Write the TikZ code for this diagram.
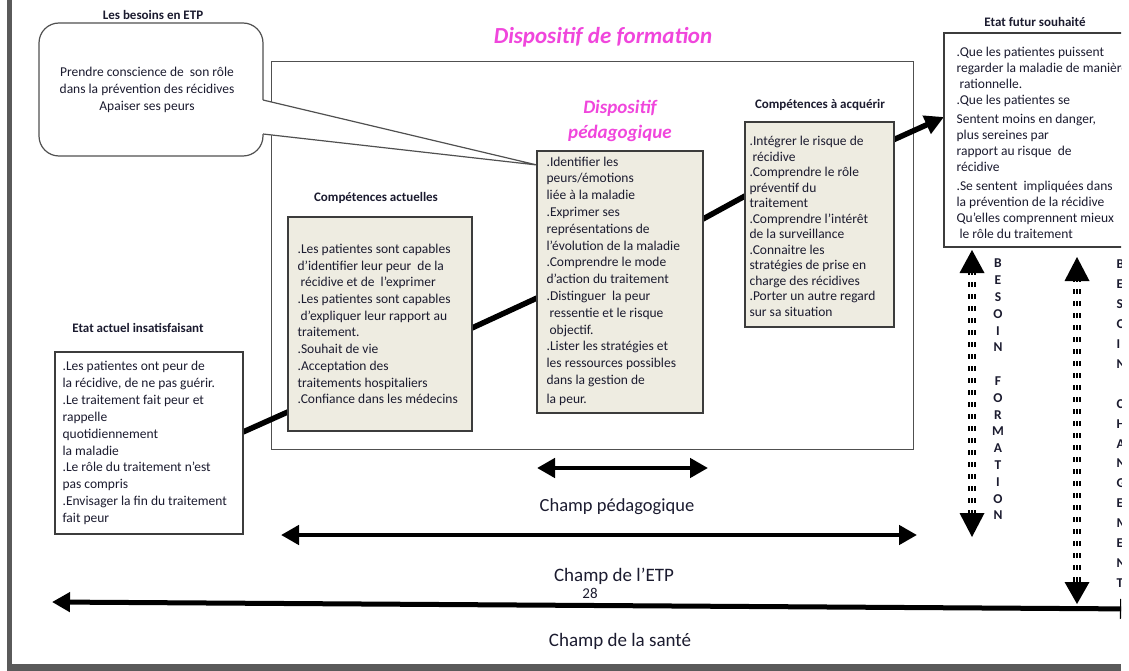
\documentclass[tikz,border=0pt]{standalone}
\usepackage{fontspec}
\setmainfont{Carlito}
\usetikzlibrary{arrows.meta}
\definecolor{ink}{HTML}{1B1B2F}
\definecolor{boxfill}{HTML}{EEECE1}
\definecolor{boxline}{HTML}{3C3C3C}
\definecolor{framegray}{HTML}{505050}
\definecolor{pinkttl}{HTML}{F046DC}
\definecolor{pagegray}{HTML}{5A5A5A}
\tikzset{
  lbl/.style={text=ink, inner sep=0pt},
  ttl/.style={lbl, font=\fontsize{13}{15}\selectfont\bfseries},
  body/.style={lbl, align=left, anchor=west, font=\fontsize{13.5}{#1}\selectfont},
  body/.default=16.5,
  beige/.style={draw=boxline, line width=1.2pt, fill=boxfill, inner sep=0pt},
  whitebox/.style={draw=boxline, line width=1.2pt, fill=white, inner sep=0pt},
  bigarrow/.style={line width=4.5pt, {Triangle[length=18pt,width=19pt]}-{Triangle[length=18pt,width=19pt]}},
  dashbar/.style={line width=1.7pt, dash pattern=on 5pt off 7pt},
  pinktitle/.style={text=pinkttl, inner sep=0pt, font=\fontsize{#1}{#1}\selectfont\bfseries\itshape},
  vlet/.style={lbl, align=center, anchor=north, font=\fontsize{13.5}{#1}\selectfont\bfseries},
  vletr/.style={lbl, align=left, anchor=north west, font=\fontsize{13.5}{#1}\selectfont\bfseries},
  champ/.style={lbl, font=\fontsize{19}{22}\selectfont},
}
\begin{document}
\begin{tikzpicture}[x=1pt,y=-1pt]
\useasboundingbox (0,0) rectangle (1129,671);
\begin{scope}
\clip (0,0) rectangle (1121,671);
% page edges
\fill[pagegray] (7,0) rectangle (12,671);
\fill[pagegray] (7,664) rectangle (1121,671);

% big frame
\node[draw=framegray, line width=1pt, minimum width=642pt, minimum height=387pt, inner sep=0pt] (formation) at (592,255.5) {};

% callout
\node[draw=framegray, line width=1.2pt, fill=white, rounded corners=20pt, minimum width=224pt, minimum height=133pt, inner sep=0pt] (besoins) at (151,89.5) {};
\coordinate (t1) at (263,100);
\coordinate (t2) at (263,134);
\coordinate (tailtip) at (537,165);
\fill[white] ([xshift=-1pt]t1) -- (tailtip) -- ([xshift=-1pt]t2) -- cycle;
\draw[framegray, line width=1.2pt] (t1) -- (tailtip) -- (t2);
\node[lbl, align=center, font=\fontsize{13.5}{17}\selectfont] (besoinsT) at (147,90) {Prendre conscience de\ \ son rôle\\dans la prévention des récidives\\Apaiser ses peurs};
\node[ttl] (besoinsH) at (153,15) {Les besoins en ETP};

% main progress line
\coordinate (s) at (243,432);
\coordinate (e) at (944,117);
\draw[line width=5.5pt, -{Triangle[length=19pt,width=19pt]}] (s) -- (290,411) -- (472,328) -- (537,298) -- (703,219) -- (745,196) -- (893,140) -- (e);

% boxes
\node[whitebox, minimum width=188pt, minimum height=182pt] (actuel) at (149,443) {};
\node[beige, minimum width=184pt, minimum height=214pt] (comp) at (380,324) {};
\node[beige, minimum width=166pt, minimum height=262pt] (pedago) at (620,282) {};
\node[beige, minimum width=149pt, minimum height=205pt] (acq) at (819.5,224.5) {};
\node[whitebox, minimum width=276pt, minimum height=214pt] (futur) at (1082,140) {};

% box texts
\node[body=16.9] (actuelT) at ([xshift=8pt]actuel.west) {.Les patientes ont peur de\\
la récidive, de ne pas guérir.\\
.Le traitement fait peur et\\
rappelle\\
quotidiennement\\
la maladie\\
.Le rôle du traitement n’est\\
pas compris\\
.Envisager la fin du traitement\\
fait peur};
\node[body=16.7] (compT) at ([xshift=10pt]comp.west) {.Les patientes sont capables\\
d’identifier leur peur\ \ de la\\
\hspace*{3pt}récidive et de\ \ l’exprimer\\
.Les patientes sont capables\\
\hspace*{3pt}d’expliquer leur rapport au\\
traitement.\\
.Souhait de vie\\
.Acceptation des\\
traitements hospitaliers\\
.Confiance dans les médecins};
\node[body=16.8] (pedagoT) at ([xshift=10pt,yshift=1pt]pedago.west) {.Identifier les\\
peurs/émotions\\
liée à la maladie\\
.Exprimer ses\\
représentations de\\
l’évolution de la maladie\\
.Comprendre le mode\\
d’action du traitement\\
.Distinguer\ \ la peur\\
\hspace*{3pt}ressentie et le risque\\
\hspace*{3pt}objectif.\\
.Lister les stratégies et\\
les ressources possibles\\
dans la gestion de\\[2pt]
la peur.};
\node[body=15.5] (acqT) at ([xshift=5pt,yshift=-2pt]acq.west) {.Intégrer le risque de\\
\hspace*{3pt}récidive\\
.Comprendre le rôle\\
préventif du\\
traitement\\
.Comprendre l’intérêt\\
de la surveillance\\
.Connaitre les\\
stratégies de prise en\\
charge des récidives\\
.Porter un autre regard\\
sur sa situation};
\node[body=16] (futurT) at ([xshift=13pt,yshift=-3pt]futur.west) {.Que les patientes puissent\\
regarder la maladie de manière\\
\hspace*{3pt}rationnelle.\\
.Que les patientes se\\[3pt]
Sentent moins en danger,\\
plus sereines par\\
rapport au risque\ \ de\\
récidive\\[3.5pt]
.Se sentent\ \ impliquées dans\\
la prévention de la récidive\\
Qu’elles comprennent mieux\\
\hspace*{3pt}le rôle du traitement};

% titles
\node[ttl] (actuelH) at (138,328) {Etat actuel insatisfaisant};
\node[ttl] (compH) at (376,198) {Compétences actuelles};
\node[ttl] (acqH) at (820,105) {Compétences à acquérir};
\node[ttl] (futurH) at (1035,22) {Etat futur souhaité};
\node[pinktitle=23] (formH) at (603,37) {Dispositif de formation};
\node[pinktitle=19] (pedagoH1) at (620,108) {Dispositif};
\node[pinktitle=19] (pedagoH2) at (620,133) {pédagogique};

% vertical dashed arrows
\coordinate (a1) at (972,250);
\coordinate (a2) at (972,537);
\coordinate (b1) at (1077,257);
\coordinate (b2) at (1077,604);
\foreach \dx in {-3.2,0,3.2} {
  \draw[dashbar] ([xshift=\dx pt,yshift=-20pt]a1) -- ([xshift=\dx pt,yshift=20pt]a2);
  \draw[dashbar] ([xshift=\dx pt,yshift=-20pt]b1) -- ([xshift=\dx pt,yshift=20pt]b2);
}
\fill (a1) -- ++(-12.5,23) -- ++(25,0) -- cycle;
\fill (a2) -- ++(-12.5,-24) -- ++(25,0) -- cycle;
\fill (b1) -- ++(-12.5,24) -- ++(25,0) -- cycle;
\fill (b2) -- ++(-12.5,-22) -- ++(25,0) -- cycle;
\node[vlet=16.8] (besoinF) at (998,259) {B\\E\\S\\O\\I\\N\\[16.8pt]F\\O\\R\\M\\A\\T\\I\\O\\N};
\node[vletr=19.9] (besoinC) at (1116.5,260) {B\\E\\S\\O\\I\\N\\[19.9pt]C\\H\\A\\N\\G\\E\\M\\E\\N\\T};

% fields
\coordinate (p1) at (537,468);
\coordinate (p2) at (708,468);
\draw[bigarrow] (p1) -- (p2);
\node[lbl, font=\fontsize{18.5}{22}\selectfont] (champP) at (617,507) {Champ pédagogique};
\coordinate (q1) at (281,535);
\coordinate (q2) at (917,535);
\draw[bigarrow] (q1) -- (q2);
\node[champ] (champE) at (614,576) {Champ de l’ETP};
\node[lbl, font=\fontsize{15}{17}\selectfont] (pagenum) at (590,593) {28};
\coordinate (h1) at (52,602);
\coordinate (h2) at (1138,609);
\draw[bigarrow, line width=5pt] (h1) -- (h2);
\node[champ] (champS) at (620,641) {Champ de la santé};
\end{scope}
\end{tikzpicture}
\end{document}
